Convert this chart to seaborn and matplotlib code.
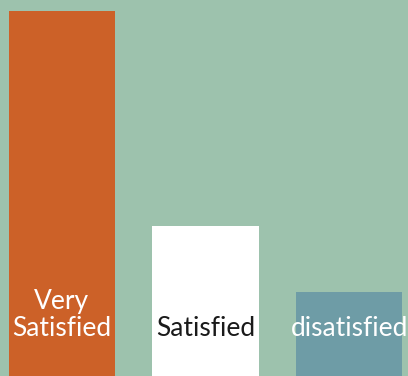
import matplotlib
matplotlib.use("Agg")
import matplotlib.pyplot as plt
import seaborn as sns
import pandas as pd

# ------------------------------------------------------------
# data
# ------------------------------------------------------------
categories = ["Very\nSatisfied", "Satisfied", "disatisfied"]
values = [61, 25, 14]
bar_colors = ["#cc6128", "#ffffff", "#6e9ca6"]
label_colors = ["#ffffff", "#1a1a1a", "#ffffff"]

df = pd.DataFrame({"category": categories, "value": values})

# ------------------------------------------------------------
# plot
# ------------------------------------------------------------
sns.set_theme(style="white")
plt.rcParams["font.family"] = ["Lato", "DejaVu Sans"]

fig = plt.figure(figsize=(4.08, 3.76), dpi=100)
bg = "#9dc2ad"
fig.patch.set_facecolor(bg)
ax = fig.add_axes([0, 0, 1, 1])
ax.set_facecolor(bg)

sns.barplot(data=df, x="category", y="value", hue="category",
            palette=bar_colors, width=0.74, saturation=1,
            linewidth=0, legend=False, ax=ax)

for i, (lab, col) in enumerate(zip(categories, label_colors)):
    ax.text(i, 6.6, lab, ha="center", va="baseline", color=col,
            fontsize=19, linespacing=1.12)

ax.set_xlim(-0.43, 2.41)
ax.set_ylim(0, 62.8)
ax.set_axis_off()

fig.savefig("out.png", dpi=100, facecolor=bg)
